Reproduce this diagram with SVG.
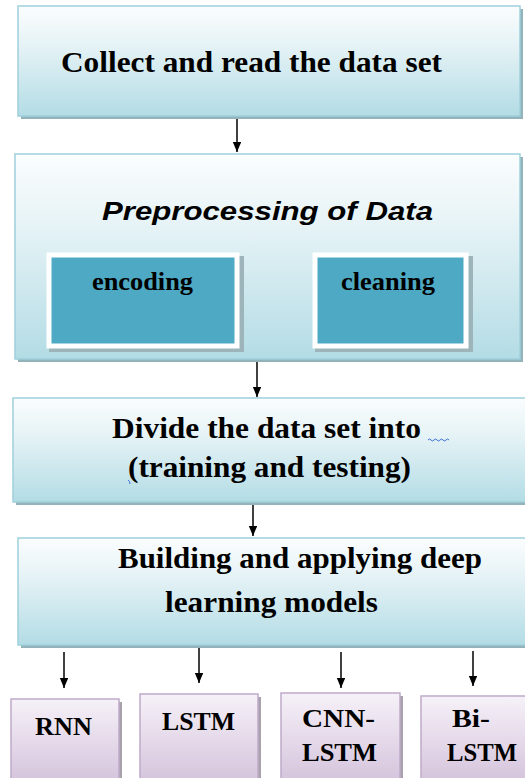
<svg xmlns="http://www.w3.org/2000/svg" width="525" height="778" viewBox="0 0 525 778">
  <defs>
    <linearGradient id="blueFill" x1="0" y1="0" x2="0" y2="1">
      <stop offset="0" stop-color="#fbfdfe"/>
      <stop offset="0.35" stop-color="#e6f3f6"/>
      <stop offset="1" stop-color="#b3dce5"/>
    </linearGradient>
    <linearGradient id="lilacFill" x1="0" y1="0" x2="0" y2="1">
      <stop offset="0" stop-color="#f6f1f8"/>
      <stop offset="1" stop-color="#d6c5dd"/>
    </linearGradient>
    <marker id="arrow" viewBox="0 0 10 12" refX="12" refY="5" markerWidth="12" markerHeight="10" markerUnits="userSpaceOnUse" orient="auto">
      <path d="M0,0 L12,5 L0,10 Z" fill="#000"/>
    </marker>
  </defs>
  <style>
    .shadow { fill: #93b3bb; }
    .shadowL { fill: #a9a2ad; }
    .blue { fill: url(#blueFill); stroke: #9fd0dc; stroke-width: 1.5; }
    .lilac { fill: url(#lilacFill); stroke: #bfaac9; stroke-width: 1.5; }
    .teal { fill: #4eaac4; stroke: #ffffff; stroke-width: 5; }
    .tealShadow { fill: #9db4ba; }
    .conn { stroke: #000; stroke-width: 1.5; fill: none; marker-end: url(#arrow); }
    .squiggle { stroke: #3b6fd8; stroke-width: 1; fill: none; }
    .serif { font-family: "Liberation Serif", serif; font-weight: bold; fill: #000; text-anchor: middle; }
    .sans { font-family: "Liberation Sans", sans-serif; font-weight: bold; font-style: italic; fill: #000; text-anchor: middle; }
  </style>

  <rect width="525" height="778" fill="#ffffff"/>

  <!-- connectors -->
  <g id="connectors">
    <line class="conn" x1="237" y1="116" x2="237" y2="152"/>
    <line class="conn" x1="257" y1="361" x2="257" y2="397"/>
    <line class="conn" x1="253" y1="503" x2="253" y2="536"/>
    <line class="conn" x1="64" y1="652" x2="64" y2="688"/>
    <line class="conn" x1="199" y1="647" x2="199" y2="683"/>
    <line class="conn" x1="341" y1="652" x2="341" y2="688"/>
    <line class="conn" x1="473" y1="651" x2="473" y2="686"/>
  </g>

  <!-- step 1 -->
  <g id="collect">
    <rect class="shadow" x="21" y="9" width="502" height="110"/>
    <rect class="blue" x="18" y="6" width="502" height="110"/>
    <text class="serif" x="251.5" y="72" font-size="29" textLength="381" lengthAdjust="spacingAndGlyphs">Collect and read the data set</text>
  </g>

  <!-- step 2 -->
  <g id="preprocessing">
    <rect class="shadow" x="18" y="157" width="505" height="205"/>
    <rect class="blue" x="15" y="154" width="505" height="205"/>
    <text class="sans" x="267.5" y="220" font-size="26" textLength="331" lengthAdjust="spacingAndGlyphs">Preprocessing of Data</text>
  </g>

  <g id="encoding">
    <rect class="tealShadow" x="49" y="256" width="195" height="96"/>
    <rect class="teal" x="49" y="255" width="188" height="91"/>
    <text class="serif" x="142.5" y="290" font-size="25" textLength="101" lengthAdjust="spacingAndGlyphs">encoding</text>
  </g>

  <g id="cleaning">
    <rect class="tealShadow" x="315" y="256" width="158" height="96"/>
    <rect class="teal" x="315" y="255" width="151" height="91"/>
    <text class="serif" x="388" y="290" font-size="25" textLength="94" lengthAdjust="spacingAndGlyphs">cleaning</text>
  </g>

  <!-- step 3 -->
  <g id="divide">
    <rect class="shadow" x="16" y="401" width="512" height="104"/>
    <rect class="blue" x="13" y="398" width="515" height="104"/>
    <text class="serif" x="266.5" y="438" font-size="30" textLength="309" lengthAdjust="spacingAndGlyphs">Divide the data set into</text>
    <text class="serif" x="269.5" y="477" font-size="30" textLength="283" lengthAdjust="spacingAndGlyphs">(training and testing)</text>
    <path class="squiggle" d="M428,440 q1.5,-2 3,0 t3,0 t3,0 t3,0 t3,0 t3,0 t3,0"/>
    <path class="squiggle" d="M128,480 q2,1 2,4"/>
  </g>

  <!-- step 4 -->
  <g id="building">
    <rect class="shadow" x="21" y="541" width="507" height="107"/>
    <rect class="blue" x="18" y="538" width="510" height="107"/>
    <text class="serif" x="300" y="568" font-size="30" textLength="364" lengthAdjust="spacingAndGlyphs">Building and applying deep</text>
    <text class="serif" x="271.5" y="612" font-size="30" textLength="213" lengthAdjust="spacingAndGlyphs">learning models</text>
  </g>

  <!-- models -->
  <g id="rnn">
    <rect class="shadowL" x="14" y="702" width="108" height="80"/>
    <rect class="lilac" x="11" y="699" width="108" height="80"/>
    <text class="serif" x="63.5" y="735" font-size="26" textLength="57" lengthAdjust="spacingAndGlyphs">RNN</text>
  </g>

  <g id="lstm">
    <rect class="shadowL" x="143" y="697" width="118" height="85"/>
    <rect class="lilac" x="140" y="694" width="118" height="85"/>
    <text class="serif" x="198.5" y="730" font-size="26" textLength="73" lengthAdjust="spacingAndGlyphs">LSTM</text>
  </g>

  <g id="cnn-lstm">
    <rect class="shadowL" x="284" y="696" width="119" height="86"/>
    <rect class="lilac" x="281" y="693" width="119" height="86"/>
    <text class="serif" x="338.5" y="727" font-size="26" textLength="73" lengthAdjust="spacingAndGlyphs">CNN-</text>
    <text class="serif" x="339.5" y="761" font-size="26" textLength="75" lengthAdjust="spacingAndGlyphs">LSTM</text>
  </g>

  <g id="bi-lstm">
    <rect class="shadowL" x="424" y="699" width="110" height="83"/>
    <rect class="lilac" x="421" y="696" width="110" height="83"/>
    <text class="serif" x="471" y="727" font-size="26" textLength="38" lengthAdjust="spacingAndGlyphs">Bi-</text>
    <text class="serif" x="482" y="761" font-size="26" textLength="70" lengthAdjust="spacingAndGlyphs">LSTM</text>
  </g>
</svg>
